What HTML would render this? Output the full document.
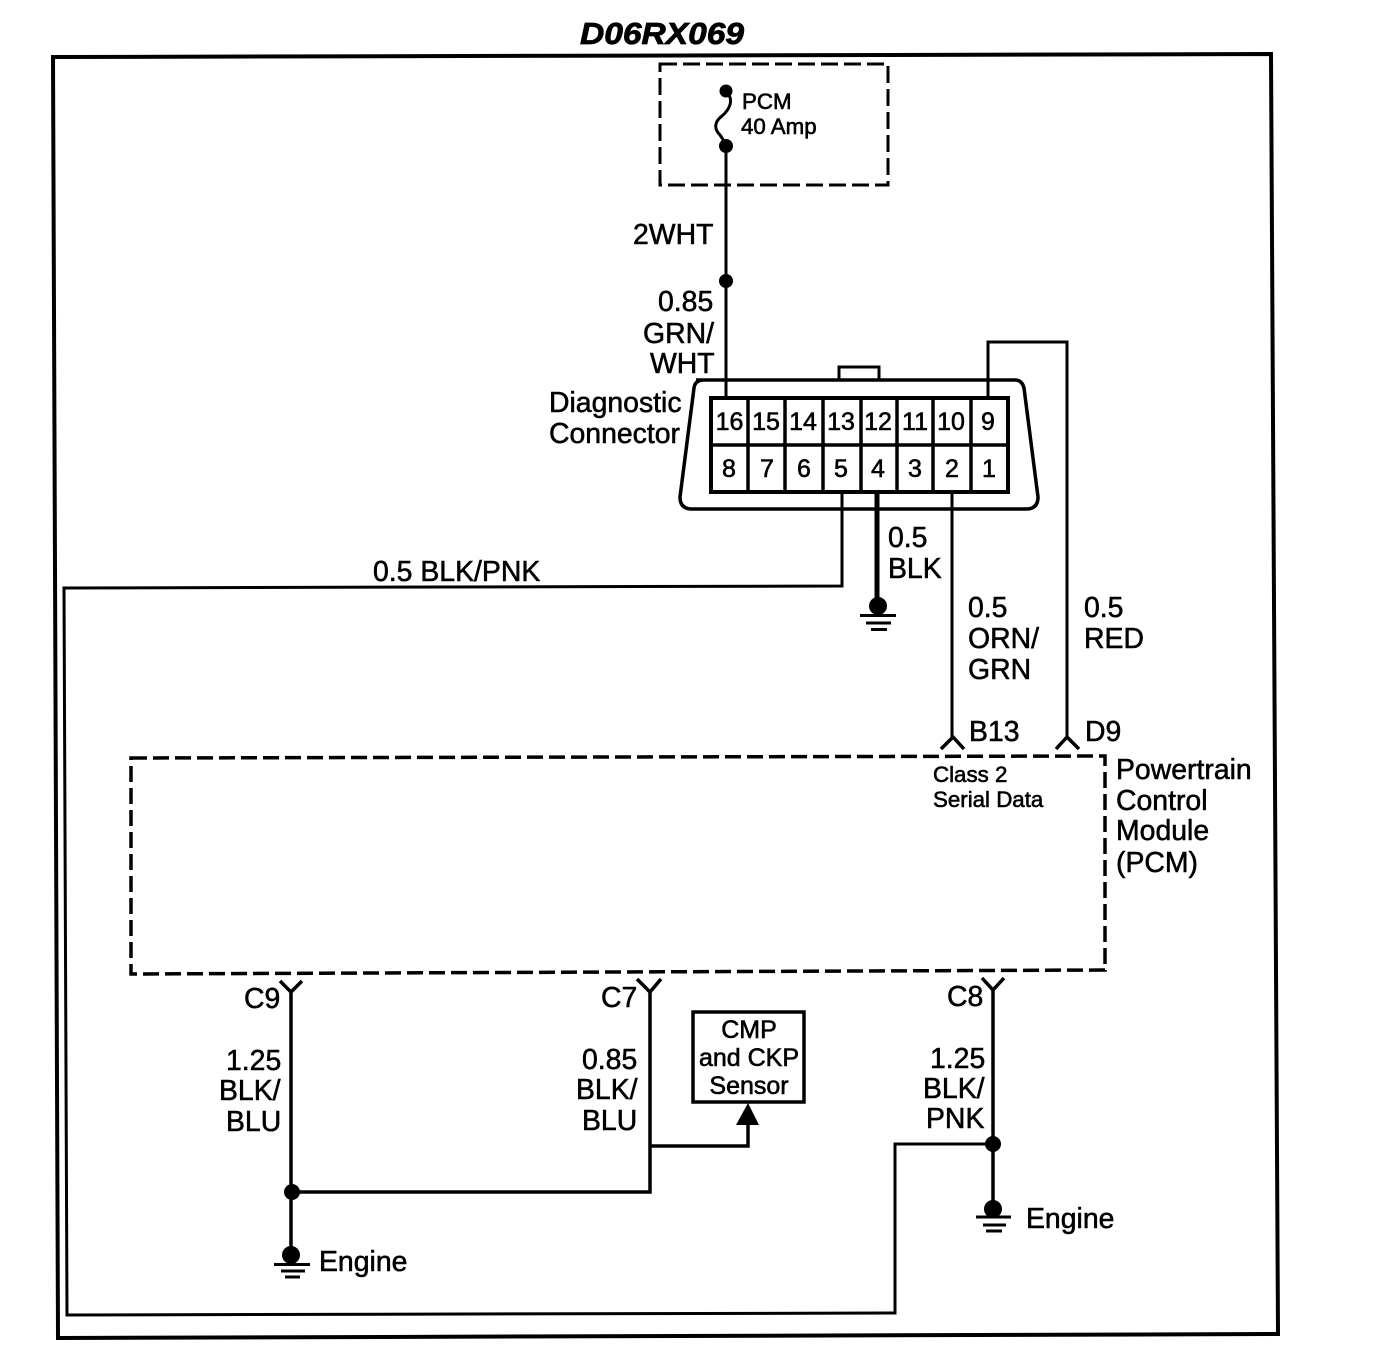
<!DOCTYPE html>
<html>
<head>
<meta charset="utf-8">
<style>
html,body{margin:0;padding:0;background:#fff;}
svg{display:block;}
text{font-family:"Liberation Sans",sans-serif;fill:#000;stroke:#000;stroke-width:.55px;font-size:28.4px;}
.s{font-size:22.3px;stroke-width:.6px;}
.n{font-size:25px;stroke-width:.6px;}
.c{font-size:25px;stroke-width:.6px;}
</style>
</head>
<body>
<svg width="1392" height="1368" viewBox="0 0 1392 1368" xmlns="http://www.w3.org/2000/svg">
<g fill="none" stroke="#000" stroke-width="3">
<polygon points="53,57 1271,54 1278,1334 58,1338" stroke-width="4"/>
<rect x="660" y="64" width="228" height="121" stroke-dasharray="17 6"/>
<path d="M726,91 C735,100 729,110 722,116 C714,122 714,129 720,135 L726,144 V399"/>
<path d="M696,380 H1015 Q1022,380 1024,388 L1038,497 Q1038,509 1026,509 H692 Q680,509 680,497 L694,388 Q695,380 704,380 Z" stroke-width="3.5"/>
<path d="M839,380 V367 H879 V380"/>
<rect x="711" y="398" width="297" height="94" stroke-width="4"/>
<path d="M711,445 H1008 M748,398 V492 M785,398 V492 M823,398 V492 M861,398 V492 M897,398 V492 M933,398 V492 M971,398 V492" stroke-width="3.5"/>
<path d="M988,398 V342 H1067 V738"/>
<path d="M952,492 V738"/>
<path d="M877,492 V606" stroke-width="5"/>
<path d="M842,492 V586 L64,588 L67,1315 L895,1313 V1144 H993"/>
<path d="M860,615.5 H896 M866,623 H891 M871,629.5 H887"/>
<path d="M941,749 L953,737 L964,749 M1056,749 L1067,737 L1079,749" stroke-width="3.5"/>
<path d="M131,758 L1105,756 V970 L131,974 Z" stroke-dasharray="16 6" stroke-width="3.5"/>
<path d="M280,981 L291,992 L302,981 M637,979 L650,992 L661,979 M982,978 L993,990 L1004,978" stroke-width="3.5"/>
<path d="M291,992 V1255 M650,992 V1192 H291 M650,1146 H748 V1120 M993,990 V1210" stroke-width="3.5"/>
<rect x="693" y="1012" width="111" height="90" stroke-width="3.5"/>
<path d="M274,1264.5 H310 M281,1271 H305 M285,1277 H300"/>
<path d="M976,1217 H1011 M983,1225 H1006 M986,1231 H1002"/>
</g>
<g fill="#000">
<circle cx="726" cy="91" r="6.5"/>
<circle cx="726" cy="146" r="7"/>
<circle cx="726" cy="281" r="7"/>
<circle cx="878" cy="606" r="9"/>
<circle cx="292" cy="1192" r="8"/>
<circle cx="993" cy="1144" r="8"/>
<circle cx="291" cy="1255" r="9"/>
<circle cx="993" cy="1209" r="9"/>
<polygon points="748,1103 736,1125 759,1125"/>
</g>
<text x="580" y="44" textLength="164" lengthAdjust="spacingAndGlyphs" style="font-size:31px;font-weight:bold;font-style:italic;stroke-width:.8px">D06RX069</text>
<text x="742" y="109" class="s">PCM</text>
<text x="741" y="134" class="s">40 Amp</text>
<text x="633" y="244">2WHT</text>
<text x="658" y="311">0.85</text>
<text x="643" y="343">GRN/</text>
<text x="650" y="373">WHT</text>
<text x="549" y="412">Diagnostic</text>
<text x="549" y="443">Connector</text>
<g text-anchor="middle">
<text x="729.5" y="430" class="n">16</text>
<text x="766" y="430" class="n">15</text>
<text x="803" y="430" class="n">14</text>
<text x="841" y="430" class="n">13</text>
<text x="878" y="430" class="n">12</text>
<text x="915" y="430" class="n">11</text>
<text x="951" y="430" class="n">10</text>
<text x="988" y="430" class="n">9</text>
<text x="729" y="477" class="n">8</text>
<text x="767" y="477" class="n">7</text>
<text x="804" y="477" class="n">6</text>
<text x="841" y="477" class="n">5</text>
<text x="878" y="477" class="n">4</text>
<text x="915" y="477" class="n">3</text>
<text x="952" y="477" class="n">2</text>
<text x="989" y="477" class="n">1</text>
</g>
<text x="373" y="581">0.5 BLK/PNK</text>
<text x="888" y="547">0.5</text>
<text x="888" y="578">BLK</text>
<text x="968" y="617">0.5</text>
<text x="968" y="648">ORN/</text>
<text x="968" y="679">GRN</text>
<text x="1084" y="617">0.5</text>
<text x="1084" y="648">RED</text>
<text x="969" y="741">B13</text>
<text x="1085" y="741">D9</text>
<text x="933" y="782" class="s">Class 2</text>
<text x="933" y="807" class="s">Serial Data</text>
<text x="1116" y="779">Powertrain</text>
<text x="1116" y="810">Control</text>
<text x="1116" y="840">Module</text>
<text x="1116" y="872">(PCM)</text>
<text x="244" y="1008">C9</text>
<text x="601" y="1007">C7</text>
<text x="947" y="1006">C8</text>
<text x="226" y="1070">1.25</text>
<text x="219" y="1100">BLK/</text>
<text x="226" y="1131">BLU</text>
<text x="582" y="1069">0.85</text>
<text x="576" y="1099">BLK/</text>
<text x="582" y="1130">BLU</text>
<text x="930" y="1068">1.25</text>
<text x="923" y="1098">BLK/</text>
<text x="926" y="1128">PNK</text>
<g text-anchor="middle">
<text x="749" y="1038" class="c">CMP</text>
<text x="749" y="1066" class="c">and CKP</text>
<text x="749" y="1094" class="c">Sensor</text>
</g>
<text x="319" y="1271">Engine</text>
<text x="1026" y="1228">Engine</text>
</svg>
</body>
</html>
